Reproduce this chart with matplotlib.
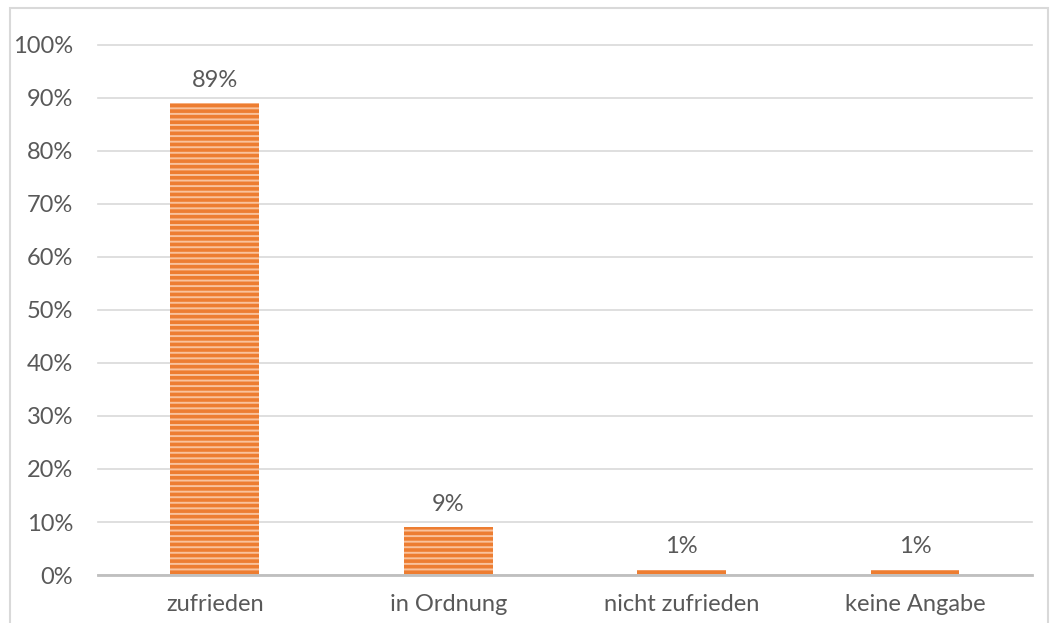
import matplotlib.pyplot as plt
from matplotlib.patches import Rectangle
from matplotlib.ticker import PercentFormatter

categories = ["zufrieden", "in Ordnung", "nicht zufrieden", "keine Angabe"]
shares = [89, 9, 1, 1]
y_ticks = list(range(0, 101, 10))

plt.rcParams["font.family"] = ["Lato", "DejaVu Sans"]
plt.rcParams["hatch.linewidth"] = 1.4

text_color = "#595959"
bar_color = "#ED7D31"
font_size = 17

fig = plt.figure(figsize=(10.54, 6.23), dpi=100)
ax = fig.add_axes([0.093, 0.077, 0.886, 0.851])

# outer frame of the chart area
fig.patches.append(Rectangle((10 / 1054, -0.05), 1038 / 1054, 1.05 - 8 / 623,
                             transform=fig.transFigure, fill=False,
                             edgecolor="#D9D9D9", linewidth=1.5))

x = range(len(categories))
bars = ax.bar(x, [s / 100 for s in shares], width=0.38, color=bar_color,
              edgecolor="#F9C29C", linewidth=0, hatch="---", zorder=3)

for bar, s in zip(bars, shares):
    ax.annotate(f"{s}%", (bar.get_x() + bar.get_width() / 2, bar.get_height()),
                xytext=(0, 9), textcoords="offset points", ha="center", va="bottom",
                fontsize=font_size, color=text_color)

ax.set_xlim(-0.5, len(categories) - 0.5)
ax.set_ylim(0, 1.0)
ax.set_yticks([t / 100 for t in y_ticks])
ax.yaxis.set_major_formatter(PercentFormatter(1.0, decimals=0))
ax.set_xticks(list(x))
ax.set_xticklabels(categories)

ax.grid(axis="y", color="#D9D9D9", linewidth=1.2, zorder=0)
for gl in ax.get_ygridlines():
    gl.set_clip_on(False)
ax.set_axisbelow(True)

for side in ["top", "right", "left"]:
    ax.spines[side].set_visible(False)
ax.spines["bottom"].set_color("#BFBFBF")
ax.spines["bottom"].set_linewidth(2)
ax.spines["bottom"].set_zorder(4)

ax.tick_params(axis="y", length=0, pad=18, labelsize=font_size, labelcolor=text_color)
ax.tick_params(axis="x", length=0, pad=14, labelsize=font_size, labelcolor=text_color)

fig.savefig("out.png", dpi=100)
